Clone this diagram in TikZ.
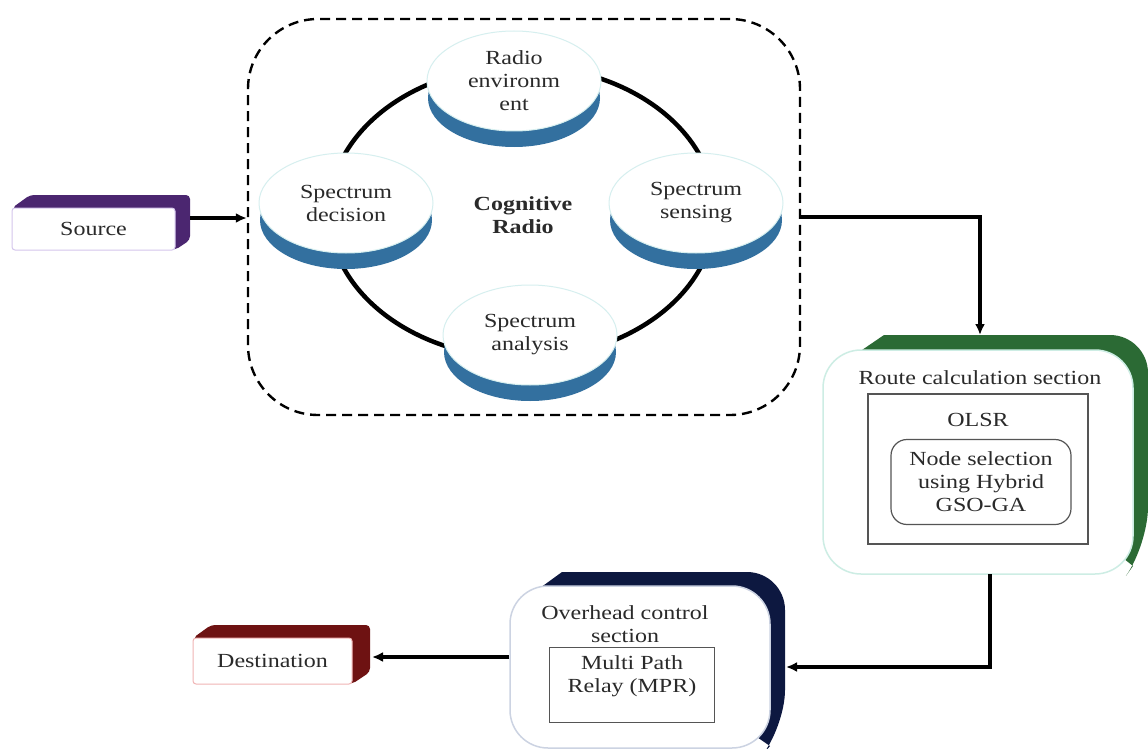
\documentclass[tikz,border=0pt]{standalone}
\usepackage{fontspec}
\setmainfont[FakeStretch=1.2]{Liberation Serif}
\usetikzlibrary{shapes.geometric,arrows.meta,calc}

\definecolor{txt}{HTML}{2A2A2A}
\definecolor{discblue}{HTML}{33709F}
\definecolor{discedge}{HTML}{D6EFEF}
\definecolor{purp}{HTML}{4B2670}
\definecolor{purpedge}{HTML}{D4C6EC}
\definecolor{dgreen}{HTML}{2B6A34}
\definecolor{rcedge}{HTML}{CDEDE4}
\definecolor{navyback}{HTML}{0D1840}
\definecolor{ohedge}{HTML}{CCD3E2}
\definecolor{dred}{HTML}{6E1212}
\definecolor{dredge}{HTML}{F0B4B4}
\definecolor{boxgray}{HTML}{555555}

\begin{document}
\begin{tikzpicture}[x=1pt,y=-1pt,
  font=\fontsize{20}{23}\selectfont,
  every node/.style={text=txt},
  disc/.style={ellipse, minimum width=174pt, minimum height=100pt, inner sep=0pt,
    fill=white, draw=discedge, line width=1pt, align=center},
  face/.style={rectangle, fill=white, line width=1pt, align=center},
  innerbox/.style={rectangle, draw=boxgray, line width=1.2pt, align=center},
  arr/.style={line width=3.2pt, -{Latex[length=11pt,width=10pt]}}]

\fill[white] (0,0) rectangle (1148,749);
\useasboundingbox (0,0) rectangle (1148,749);

% ---- cognitive radio cycle ----
\node[draw=black, line width=2.4pt, dash pattern=on 10pt off 6pt, rounded corners=70pt,
      minimum width=552pt, minimum height=396pt] (cr) at (524,217) {};
\draw[line width=4.5pt] (522,212) ellipse [x radius=193pt, y radius=146pt];

\foreach \cx/\cy in {514/81, 346/203, 696/203, 530/335}
  \fill[discblue] (\cx,\cy+17) ellipse [x radius=86pt, y radius=49pt];

\node[disc] (renv) at (514,81) {Radio\\environm\\ent};
\node[disc] (sdec) at (346,203) {Spectrum\\decision};
\node[disc] (ssen) at (696,203) {Spectrum\\sensing};
\node[disc] (sana) at (530,335) {Spectrum\\analysis};
\node[font=\fontsize{20}{23}\selectfont\bfseries, align=center] (cog) at (523,215) {Cognitive\\Radio};

% ---- source ----
\fill[purp, rounded corners=4pt] (12,208) -- (30,195) -- (190,195) -- (190,240) -- (175,250) -- cycle;
\node[face, draw=purpedge, rounded corners=3pt, minimum width=163pt, minimum height=42pt] (src) at (93.5,229) {Source};
\coordinate (srcout) at (190,218);
\draw[arr] (srcout) -- (srcout -| cr.west);

% ---- route calculation section ----
\fill[dgreen] (862,350) -- (884,335) [rounded corners=38pt] -- (1148,335) -- (1148,545) [sharp corners] -- (1133,566) -- cycle;
\node[face, draw=rcedge, line width=1.5pt, rounded corners=38pt, minimum width=310pt, minimum height=224pt] (rc) at (978,462) {};
\node (rctitle) at (980,378) {Route calculation section};
\node[innerbox, minimum width=220pt, minimum height=150pt] (olsr) at (978,469) {};
\node (olsrlbl) at (978,420) {OLSR};
\node[innerbox, rounded corners=16pt, minimum width=180pt, minimum height=85pt] (nsel) at (981,482) {Node selection\\using Hybrid\\GSO-GA};

\coordinate (rctop) at (980,335);
\draw[arr] (cr.east) -| (rctop);

% ---- overhead control section ----
\fill[navyback] (540,588) -- (562,572) [rounded corners=38pt] -- (785,572) -- (785,728) [sharp corners] -- (770,746) -- cycle;
\node[face, draw=ohedge, line width=1.5pt, rounded corners=38pt, minimum width=260pt, minimum height=162pt] (oh) at (640,667) {};
\node[align=center] (ohtitle) at (625,624) {Overhead control\\section};
\node[innerbox, minimum width=165pt, minimum height=75pt] (mpr) at (632,685) {};
\node[align=center] (mprlbl) at (632,676) {Multi Path\\Relay (MPR)};

\coordinate (rcout) at (990,574);
\coordinate (ohin) at (786,667);
\draw[arr] (rcout) |- (ohin);

% ---- destination ----
\fill[dred, rounded corners=4pt] (193,638) -- (211,625) -- (370,625) -- (370,672) -- (352,684) -- cycle;
\node[face, draw=dredge, rounded corners=3pt, minimum width=159pt, minimum height=46pt] (dst) at (272.5,661) {Destination};
\coordinate (dstin) at (372,657);
\draw[arr] ([yshift=10pt]oh.west) -- (dstin);

\end{tikzpicture}
\end{document}
